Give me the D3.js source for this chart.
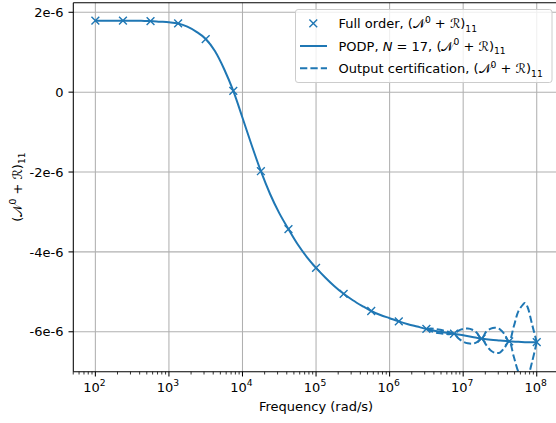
<!DOCTYPE html>
<html>
<head>
<meta charset="utf-8">
<script src="https://cdn.jsdelivr.net/npm/d3@7"></script>
<style>
  html, body { margin: 0; background: #fff; overflow: hidden; }
  svg { display: block; font-family: "DejaVu Sans", sans-serif; }
</style>
</head>
<body>
<div id="chart"></div>
<script>
const BLUE = "#1f77b4";
const GRID = "#b0b0b0";

// full order snapshots (log10 of rad/s) and values in units of 1e-6
const fullLogW = [2, 2.375, 2.75, 3.125, 3.5, 3.875, 4.25, 4.625, 5, 5.375, 5.75, 6.125, 6.5, 6.875, 7.25, 7.625, 8];
const fullVals = [1.79, 1.79, 1.78, 1.72, 1.33, 0.03, -1.98, -3.43, -4.40, -5.05, -5.48, -5.74, -5.93, -6.05, -6.17, -6.24, -6.26];

// PODP curve, read every 1/8 decade
const podpLogW = [2, 2.125, 2.25, 2.375, 2.5, 2.625, 2.75, 2.875, 3, 3.125, 3.25, 3.375, 3.5, 3.625, 3.75, 3.875,
  4, 4.125, 4.25, 4.375, 4.5, 4.625, 4.75, 4.875, 5, 5.125, 5.25, 5.375, 5.5, 5.625, 5.75, 5.875,
  6, 6.125, 6.25, 6.375, 6.5, 6.625, 6.75, 6.875, 7, 7.125, 7.25, 7.375, 7.5, 7.625, 7.75, 7.875, 8];
const podpVals = [1.79, 1.79, 1.79, 1.79, 1.79, 1.785, 1.78, 1.765, 1.75, 1.72, 1.64, 1.51, 1.33, 1.03, 0.58, 0.03,
  -0.64, -1.33, -1.98, -2.55, -3.03, -3.43, -3.81, -4.13, -4.40, -4.64, -4.86, -5.05, -5.21, -5.35, -5.48, -5.58,
  -5.66, -5.74, -5.81, -5.87, -5.93, -5.98, -6.02, -6.05, -6.09, -6.13, -6.17, -6.20, -6.22, -6.24, -6.25, -6.26, -6.26];

// output certification bounds (high frequency part, elsewhere on top of PODP)
const certLogW = [6.5, 6.5625, 6.625, 6.6875, 6.75, 6.8125, 6.875, 6.9375, 7, 7.0625, 7.125, 7.1875, 7.25,
  7.3125, 7.375, 7.4375, 7.5, 7.5625, 7.625, 7.6875, 7.75, 7.8125, 7.84, 7.875, 7.9375, 8];
const certUpper = [-5.93, -5.92, -5.93, -5.95, -5.98, -6.01, -6.05, -5.97, -5.93, -5.92, -5.95, -6.03, -6.17,
  -6.00, -5.92, -5.90, -5.94, -6.06, -6.24, -5.87, -5.49, -5.32, -5.28, -5.38, -5.82, -6.26];
const certLower = [-5.93, -5.98, -6.02, -6.04, -6.05, -6.06, -6.05, -6.17, -6.25, -6.29, -6.30, -6.26, -6.17,
  -6.33, -6.47, -6.53, -6.52, -6.40, -6.24, -6.62, -7.00, -7.18, -7.22, -7.15, -6.75, -6.26];

const yTicks = [2e-6, 0, -2e-6, -4e-6, -6e-6];
const yTickLabels = ["2e-6", "0", "-2e-6", "-4e-6", "-6e-6"];
const xTickExps = [2, 3, 4, 5, 6, 7, 8];

const width = 556, height = 423;
const axL = 73.3, axR = 558.8, axT = 2.7, axB = 371.7;

const x = d3.scaleLog().domain([Math.pow(10, 1.7), Math.pow(10, 8.3)]).range([axL, axR]);
const y = d3.scaleLinear().domain([-7e-6, 2.24e-6]).range([axB, axT]);

const svg = d3.select("#chart").append("svg")
  .attr("width", width).attr("height", height);

svg.append("defs").append("clipPath").attr("id", "clip")
  .append("rect").attr("x", axL).attr("y", axT)
  .attr("width", axR - axL).attr("height", axB - axT);

// grid
const grid = svg.append("g");
xTickExps.forEach(e => {
  grid.append("line")
    .attr("x1", x(Math.pow(10, e))).attr("x2", x(Math.pow(10, e)))
    .attr("y1", axT).attr("y2", axB)
    .attr("stroke", GRID).attr("stroke-width", 1.05);
});
yTicks.forEach(v => {
  grid.append("line")
    .attr("x1", axL).attr("x2", width)
    .attr("y1", y(v)).attr("y2", y(v))
    .attr("stroke", GRID).attr("stroke-width", 1.05);
});

const plot = svg.append("g").attr("clip-path", "url(#clip)");

// full order markers
const ms = 3.9;
plot.selectAll("path.mk")
  .data(fullLogW.map((e, i) => [Math.pow(10, e), fullVals[i] * 1e-6]))
  .enter().append("path")
  .attr("class", "mk")
  .attr("d", d => {
    const cx = x(d[0]), cy = y(d[1]);
    return `M${cx - ms},${cy - ms}L${cx + ms},${cy + ms}M${cx - ms},${cy + ms}L${cx + ms},${cy - ms}`;
  })
  .attr("stroke", BLUE).attr("stroke-width", 1.4).attr("fill", "none");

const line = d3.line()
  .x(d => x(d[0])).y(d => y(d[1]))
  .curve(d3.curveMonotoneX);

plot.append("path")
  .datum(podpLogW.map((e, i) => [Math.pow(10, e), podpVals[i] * 1e-6]))
  .attr("d", line)
  .attr("fill", "none").attr("stroke", BLUE).attr("stroke-width", 2);

const certLine = d3.line()
  .x(d => x(d[0])).y(d => y(d[1]))
  .curve(d3.curveCatmullRom.alpha(0.5));

[certUpper, certLower].forEach(arr => {
  plot.append("path")
    .datum(certLogW.map((e, i) => [Math.pow(10, e), arr[i] * 1e-6]))
    .attr("d", certLine)
    .attr("fill", "none").attr("stroke", BLUE).attr("stroke-width", 2)
    .attr("stroke-dasharray", "7.3,3.1");
});

// spines (right one falls outside the picture)
const sp = svg.append("g").attr("stroke", "#000").attr("stroke-width", 1.05);
sp.append("line").attr("x1", axL).attr("x2", axL).attr("y1", axT).attr("y2", axB);
sp.append("line").attr("x1", axL).attr("x2", width).attr("y1", axB).attr("y2", axB);
sp.append("line").attr("x1", axL).attr("x2", width).attr("y1", axT).attr("y2", axT);

// x ticks (major + minor)
const xt = svg.append("g");
for (let e = 1; e <= 8; e++) {
  for (let m = 1; m <= 9; m++) {
    const v = m * Math.pow(10, e);
    const px = x(v);
    if (px < axL - 0.1 || px > width) continue;
    xt.append("line")
      .attr("x1", px).attr("x2", px)
      .attr("y1", axB).attr("y2", axB + (m === 1 ? 4.8 : 2.8))
      .attr("stroke", "#000").attr("stroke-width", m === 1 ? 1.05 : 0.8);
  }
}
xTickExps.forEach(e => {
  const t = xt.append("text")
    .attr("x", x(Math.pow(10, e)) - 1).attr("y", 391.5)
    .attr("text-anchor", "middle")
    .attr("font-size", 13).attr("fill", "#000");
  t.append("tspan").text("10");
  t.append("tspan").text(e).attr("font-size", 9.2).attr("dy", -6);
});

svg.append("text")
  .attr("x", (axL + axR) / 2).attr("y", 411)
  .attr("text-anchor", "middle").attr("font-size", 13)
  .text("Frequency (rad/s)");

// y ticks
const yt = svg.append("g");
yTicks.forEach((v, i) => {
  yt.append("line")
    .attr("x1", axL - 4.8).attr("x2", axL)
    .attr("y1", y(v)).attr("y2", y(v))
    .attr("stroke", "#000").attr("stroke-width", 1.05);
  yt.append("text")
    .attr("x", axL - 9.8).attr("y", y(v))
    .attr("dy", "0.36em")
    .attr("text-anchor", "end").attr("font-size", 13)
    .text(yTickLabels[i]);
});

// math-ish text with sup / sub parts
function mathText(sel, parts) {
  let off = 0;
  parts.forEach(p => {
    const target = p.sup ? -5.5 : (p.sub ? 3.5 : 0);
    const ts = sel.append("tspan").text(p.t);
    if (target !== off) ts.attr("dy", target - off);
    off = target;
    if (p.sup || p.sub) ts.attr("font-size", 9.2);
    if (p.it) ts.style("font-style", "italic");
  });
}
const nr = [{ t: "(" }, { t: "\u{1D4A9}" }, { t: "0", sup: true }, { t: " + " }, { t: "\u211B" }, { t: ")" }, { t: "11", sub: true }];

const yl = svg.append("text")
  .attr("transform", "translate(21.5,187) rotate(-90)")
  .attr("text-anchor", "middle").attr("font-size", 13);
mathText(yl, nr);

// legend
const lg = svg.append("g");
lg.append("rect")
  .attr("x", 295.5).attr("y", 9.5).attr("width", 256.5).attr("height", 73)
  .attr("rx", 2.6)
  .attr("fill", "rgba(255,255,255,0.8)")
  .attr("stroke", "#cccccc").attr("stroke-width", 1);

const rows = [
  { kind: "x", parts: [{ t: "Full order, " }].concat(nr) },
  { kind: "solid", parts: [{ t: "PODP, " }, { t: "N", it: true }, { t: " = 17, " }].concat(nr) },
  { kind: "dash", parts: [{ t: "Output certification, " }].concat(nr) }
];
const rowY = [23.3, 46, 68.3];
rows.forEach((r, i) => {
  const cy = rowY[i];
  if (r.kind === "x") {
    const cx = 313.3;
    lg.append("path")
      .attr("d", `M${cx - ms},${cy - ms}L${cx + ms},${cy + ms}M${cx - ms},${cy + ms}L${cx + ms},${cy - ms}`)
      .attr("stroke", BLUE).attr("stroke-width", 1.4);
  } else {
    lg.append("line")
      .attr("x1", 300).attr("x2", 327).attr("y1", cy).attr("y2", cy)
      .attr("stroke", BLUE).attr("stroke-width", 2)
      .attr("stroke-dasharray", r.kind === "dash" ? "7.3,3.1" : null);
  }
  const t = lg.append("text")
    .attr("x", 338.5).attr("y", cy + 4.7)
    .attr("font-size", 13);
  mathText(t, r.parts);
});
</script>
</body>
</html>
